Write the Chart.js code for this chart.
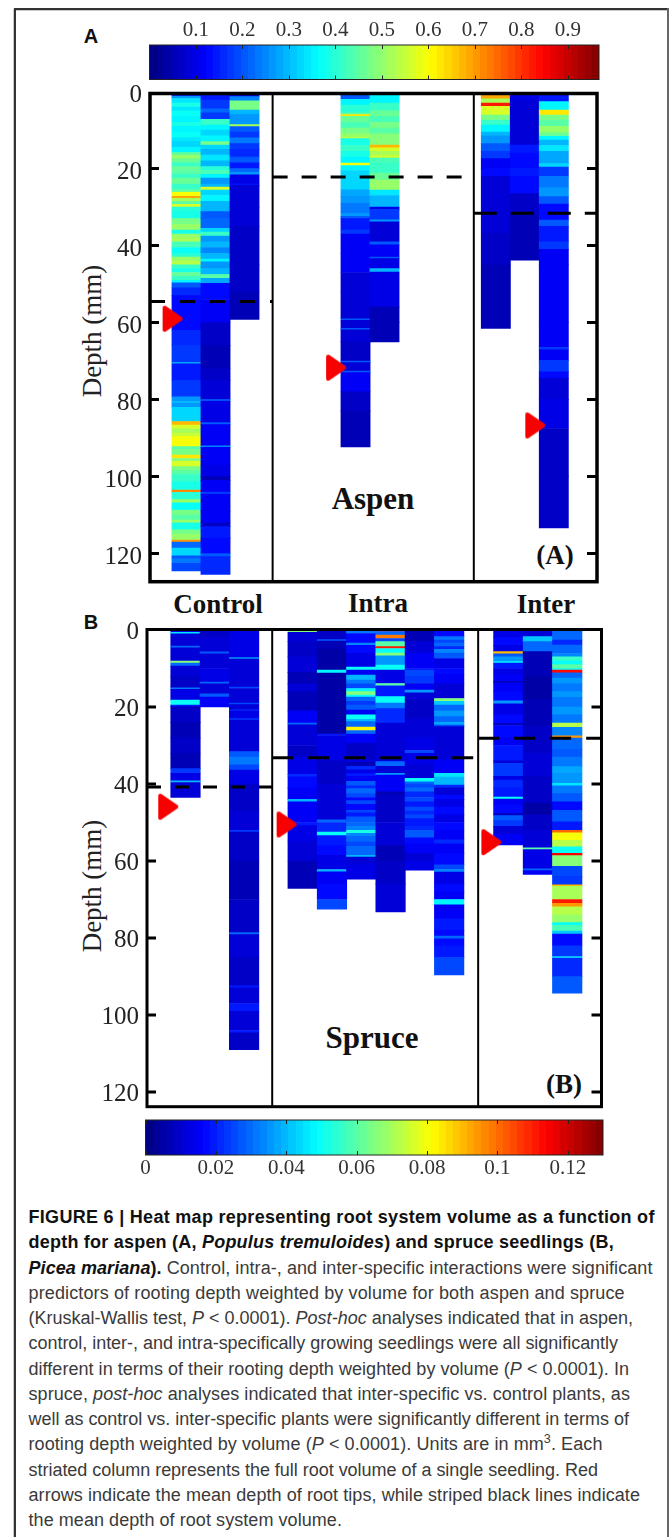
<!DOCTYPE html>
<html>
<head>
<meta charset="utf-8">
<script src="https://cdn.jsdelivr.net/npm/chart.js@4/dist/chart.umd.js"></script>
<style>
  html, body { margin: 0; padding: 0; background: #fff; }
  body { position: relative; width: 670px; height: 1537px; overflow: hidden; }
  canvas { position: absolute; left: 0; filter: blur(0.45px); }
  .rule { position: absolute; background: #333; }
  .soft { position: absolute; background: #c8c8c8; }
  .lab { position: absolute; white-space: nowrap; transform: translate(-50%, -50%); color: #111; line-height: 1; }
  .serif { font-family: "Liberation Serif", serif; font-weight: bold; }
  .sans { font-family: "Liberation Sans", sans-serif; font-weight: bold; }
  .axis { font-family: "Liberation Serif", serif; font-size: 27px; color: #222; transform: translate(-50%, -50%) rotate(-90deg); }
  #caption { position: absolute; left: 28.5px; top: 1205px; font-family: "Liberation Sans", sans-serif; font-size: 18px; line-height: 25.25px; color: #3a3a3a; }
  #caption div { white-space: nowrap; height: 25.25px; width: max-content; }
  #caption b { color: #111; }
  sup { font-size: 70%; line-height: 0; }
</style>
</head>
<body>
<div class="soft" style="left:15px;top:10px;width:652px;height:1px"></div>
<div class="soft" style="left:13px;top:9px;width:1px;height:1528px"></div>
<div class="rule" style="left:14px;top:8px;width:654px;height:2px"></div>
<div class="rule" style="left:14px;top:8px;width:1.5px;height:1529px"></div>
<div class="rule" style="left:667px;top:8px;width:1.5px;height:1529px;background:#666"></div>

<div class="lab sans" style="left:91px;top:36px;font-size:20px">A</div>
<div class="lab sans" style="left:91px;top:622px;font-size:20px">B</div>
<div class="lab serif" style="left:218px;top:604px;font-size:27px">Control</div>
<div class="lab serif" style="left:378px;top:603px;font-size:27px">Intra</div>
<div class="lab serif" style="left:546px;top:604px;font-size:27px">Inter</div>
<div class="lab serif" style="left:373px;top:498px;font-size:31px">Aspen</div>
<div class="lab serif" style="left:555px;top:555px;font-size:27px">(A)</div>
<div class="lab serif" style="left:372px;top:1037px;font-size:31px">Spruce</div>
<div class="lab serif" style="left:564px;top:1084px;font-size:27px">(B)</div>
<div class="lab axis" style="left:92px;top:331px">Depth (mm)</div>
<div class="lab axis" style="left:92px;top:886px">Depth (mm)</div>

<canvas id="barA" width="670" height="70" style="top:10px"></canvas>
<canvas id="chartA" width="670" height="560" style="top:60px"></canvas>
<canvas id="chartB" width="670" height="560" style="top:590px"></canvas>
<canvas id="barB" width="670" height="70" style="top:1115px"></canvas>

<div id="caption">
  <div><b>FIGURE 6 | Heat map representing root system volume as a function of</b></div>
  <div><b>depth for aspen (A, <i>Populus tremuloides</i>) and spruce seedlings (B,</b></div>
  <div><b><i>Picea mariana</i>).</b> Control, intra-, and inter-specific interactions were significant</div>
  <div>predictors of rooting depth weighted by volume for both aspen and spruce</div>
  <div>(Kruskal-Wallis test, <i>P</i> &lt; 0.0001). <i>Post-hoc</i> analyses indicated that in aspen,</div>
  <div>control, inter-, and intra-specifically growing seedlings were all significantly</div>
  <div>different in terms of their rooting depth weighted by volume (<i>P</i> &lt; 0.0001). In</div>
  <div>spruce, <i>post-hoc</i> analyses indicated that inter-specific vs. control plants, as</div>
  <div>well as control vs. inter-specific plants were significantly different in terms of</div>
  <div>rooting depth weighted by volume (<i>P</i> &lt; 0.0001). Units are in mm<sup>3</sup>. Each</div>
  <div>striated column represents the full root volume of a single seedling. Red</div>
  <div>arrows indicate the mean depth of root tips, while striped black lines indicate</div>
  <div>the mean depth of root system volume.</div>
</div>

<script>
// Shared tick lists =============================================
const depthTicks = [0, 20, 40, 60, 80, 100, 120];
const colorTicksA = [0.1, 0.2, 0.3, 0.4, 0.5, 0.6, 0.7, 0.8, 0.9];
const colorTicksB = [0, 0.02, 0.04, 0.06, 0.08, 0.1, 0.12];
const colorMaxA = 0.967;
const colorMaxB = 0.13;

// Aspen columns: [depth at bottom of band, volume] =============
const aspenControl1 = [[1.2,.13],[1.8,.26],[3,.34],[4,.38],[5,.34],[6.5,.37],[8,.35],[9,.38],[10.5,.35],[12,.37],[13,.34],[14.5,.32],[15.8,.35],[16.5,.44],[17.5,.5],[18.5,.46],[19.5,.42],[20.5,.46],[21.5,.44],[22.5,.42],[24,.46],[25.5,.42],[26.2,.46],[27.2,.6],[27.7,.68],[28.6,.52],[29.3,.44],[30,.56],[31,.4],[33,.38],[34.5,.47],[36,.5],[37,.39],[38,.5],[39,.52],[40.5,.43],[42,.37],[43,.4],[44,.5],[45,.54],[46,.42],[47,.38],[48,.46],[49,.41],[49.7,.36],[51,.2],[53,.16],[62,.13],[66,.16],[70.3,.17],[70.7,.28],[75,.15],[79.3,.18],[80.5,.27],[81,.3],[82,.26],[85.7,.33],[86.6,.67],[87.6,.56],[88.7,.52],[89.6,.55],[92.2,.59],[93,.44],[94.4,.47],[95.3,.63],[96,.47],[97.4,.56],[98.5,.47],[99.5,.44],[101.3,.41],[103.5,.38],[104.1,.72],[106,.4],[106.8,.5],[108.7,.37],[110,.47],[111.3,.44],[112,.5],[113.8,.38],[115,.48],[116.5,.5],[117,.7],[118.6,.22],[120.6,.33],[121.3,.2],[122.5,.24],[124.5,.19]];
const aspenControl2 = [[1,.13],[2.2,.15],[4.5,.17],[5.5,.22],[7.2,.18],[8.7,.42],[10,.35],[11.5,.32],[13,.35],[13.9,.47],[15,.33],[16.5,.3],[18,.34],[19.5,.3],[20.5,.4],[21.5,.43],[22.5,.36],[24,.27],[24.8,.3],[25.6,.56],[27,.33],[28.5,.36],[31.2,.3],[33,.2],[35.5,.22],[36.5,.32],[37.5,.42],[39,.27],[40.5,.3],[42,.25],[43.5,.3],[44.2,.36],[46,.27],[47.5,.3],[48.5,.44],[49.8,.28],[54,.13],[60,.12],[66,.07],[72,.05],[75,.07],[80,.09],[80.4,.22],[86,.1],[86.5,.2],[92,.11],[92.4,.25],[97,.11],[100,.1],[101,.06],[104,.12],[104.6,.17],[109,.11],[112,.12],[113,.07],[116,.14],[120,.13],[120.8,.2],[125.4,.16]];
const aspenControl3 = [[1.3,.1],[2.4,.25],[4.8,.47],[6,.3],[8.6,.27],[9.1,.52],[10.5,.2],[12,.17],[13.5,.23],[15,.18],[17,.16],[18.5,.21],[20,.15],[21,.22],[21.6,.26],[24,.1],[24.3,.15],[30,.09],[35,.08],[45,.075],[52,.07],[59.2,.06]];
const aspenIntra1 = [[1,.13],[2,.2],[3.5,.36],[5.5,.4],[6,.45],[6.4,.62],[8,.46],[9.5,.43],[11,.47],[11.8,.5],[12.2,.54],[14,.38],[15.5,.42],[17,.38],[18.6,.36],[19.2,.6],[20.5,.36],[22,.33],[25.5,.33],[27.2,.28],[29,.26],[31.6,.23],[32.4,.27],[33,.21],[36,.15],[37,.18],[42,.12],[47,.12],[52,.09],[59,.08],[59.4,.2],[61.5,.09],[61.9,.2],[65,.08],[70,.07],[70.4,.2],[72.6,.08],[73,.2],[78,.12],[83,.07],[92.3,.06]];
const aspenIntra2 = [[.9,.25],[3,.36],[5,.42],[6.5,.46],[8,.43],[9.5,.47],[11,.44],[13.9,.49],[14.6,.67],[15.5,.56],[16.5,.52],[17.3,.55],[18.5,.43],[21.2,.41],[23,.46],[25.6,.5],[27,.34],[30,.3],[30.6,.1],[33.3,.17],[33.8,.27],[39,.09],[39.8,.2],[43,.12],[43.4,.2],[46,.1],[46.9,.3],[56,.1],[60,.06],[65,.05]];
const aspenInter1 = [[.6,.3],[1.9,.68],[3,.52],[3.8,.82],[6.1,.56],[7.5,.47],[8.7,.42],[10.5,.36],[11.5,.3],[13.5,.26],[15.5,.2],[17.4,.18],[20,.12],[22,.13],[30,.09],[36.8,.08],[45,.07],[61.5,.06]];
const aspenInter2 = [[1.2,.13],[2.2,.1],[13.9,.09],[16,.14],[20,.13],[22,.15],[26.5,.13],[32,.07],[43.8,.055]];
const aspenInter3 = [[2.6,.14],[4.8,.36],[6.1,.63],[7.5,.48],[9,.45],[10.7,.5],[11.6,.46],[12.6,.36],[14,.3],[15.5,.34],[18.7,.28],[19.6,.33],[22,.18],[25,.24],[27.3,.26],[29.2,.2],[33.4,.13],[35,.2],[39,.15],[41,.17],[45,.11],[60,.12],[66.4,.11],[67.1,.18],[69.8,.12],[72.8,.18],[74.5,.13],[80,.09],[87.5,.1],[100,.07],[113.3,.07]];

const aspenColumns = [aspenControl1, aspenControl2, aspenControl3, aspenIntra1, aspenIntra2, aspenInter1, aspenInter2, aspenInter3];
const aspenSlots = [1, 2, 3, 6.83, 7.83, 11.67, 12.67, 13.67];
const aspenMeanDepth = [54.5, 22.2, 31.6];
const aspenTipDepth = [59, 71.7, 86.7];
const aspenTipSlot = [0.52, 6.16, 13.03];
const aspenDividers = [3.97, 10.91];

// Spruce columns ================================================
const spruceControl1 = [[.6,.014],[1,.045],[4.2,.012],[4.6,.03],[8.1,.012],[8.6,.066],[9.4,.03],[12,.012],[15,.01],[15.4,.032],[18.2,.014],[19.5,.05],[19.9,.02],[24,.01],[28,.008],[32,.01],[36,.007],[37.2,.024],[39.2,.014],[39.6,.04],[43.5,.012]];
const spruceControl2 = [[2,.009],[5.7,.012],[6.2,.028],[10,.012],[13.5,.014],[14,.03],[16.6,.012],[17.4,.028],[20,.016]];
const spruceControl3 = [[7.2,.014],[7.5,.045],[14.8,.012],[15.2,.025],[19,.012],[19.4,.025],[20.7,.012],[21,.024],[23,.013],[23.4,.024],[31.6,.011],[33,.028],[35,.032],[36.4,.026],[40,.014],[47,.01],[52,.012],[52.5,.024],[60,.01],[70,.008],[78.6,.009],[79.1,.03],[85,.012],[92.4,.01],[92.9,.02],[97,.012],[99,.02],[104,.011],[104.6,.02],[109,.009]];

const spruceIntra1 = [[.6,.065],[3,.012],[7,.009],[11,.011],[14,.008],[16,.011],[21,.008],[24.2,.016],[24.6,.03],[30,.012],[33,.01],[37.5,.013],[38.1,.022],[41,.018],[44,.015],[44.6,.04],[50,.016],[50.8,.02],[55,.013],[60,.011],[67.1,.008]];
const spruceIntra2 = [[2.5,.009],[2.9,.028],[5,.007],[10.4,.006],[11.2,.048],[18,.006],[27,.005],[27.4,.02],[34,.014],[40,.009],[46.8,.011],[49.3,.012],[50,.03],[52.5,.022],[53.4,.05],[56,.02],[58.5,.018],[62.2,.013],[62.8,.04],[66,.016],[70,.018],[72.5,.025]];
const spruceIntra3 = [[.9,.032],[3.4,.018],[4,.034],[6,.018],[9.6,.014],[10.4,.05],[11.7,.016],[13,.04],[14,.032],[15.2,.026],[16,.048],[16.9,.066],[17.4,.05],[18.5,.03],[19.5,.024],[20.8,.028],[22,.016],[23.2,.05],[23.8,.04],[25.2,.03],[26.1,.082],[27,.03],[29.4,.016],[33.7,.01],[34.3,.013],[35.4,.008],[36.3,.022],[37.3,.014],[38,.02],[39.3,.016],[40.5,.028],[41.2,.022],[42.5,.03],[43.5,.026],[44.3,.018],[45.3,.026],[46.8,.018],[47.5,.026],[48.5,.02],[50,.028],[51,.03],[52,.034],[52.8,.052],[53.6,.034],[55,.03],[56.2,.025],[57.3,.03],[58.5,.03],[59,.04],[61,.012],[64.7,.014]];
const spruceIntra4 = [[.4,.115],[1.3,.03],[2.2,.098],[3,.025],[4.3,.06],[4.8,.11],[6,.05],[6.7,.066],[9.1,.036],[10.4,.05],[13.9,.014],[14.5,.06],[17.3,.02],[19,.05],[20.4,.032],[24.2,.022],[34.2,.012],[35.4,.03],[37.2,.012],[37.7,.035],[42,.016],[43,.007],[50,.01],[56,.012],[60,.008],[66,.01],[73.2,.012]];
const spruceIntra5 = [[3,.008],[6,.012],[10,.016],[10.5,.02],[12,.026],[13.9,.024],[15.6,.016],[16.3,.036],[18,.012],[23,.01],[28,.012],[31.3,.013],[32,.025],[35,.014],[38.5,.012],[39.4,.05],[40,.03],[41,.026],[42,.03],[43.5,.022],[44.6,.026],[46,.02],[47,.026],[48,.022],[49,.026],[51,.02],[52,.022],[54,.028],[55.5,.018],[58,.016],[60,.012],[62.4,.014]];
const spruceIntra6 = [[1.7,.018],[2.6,.032],[3.4,.026],[4.3,.03],[5,.022],[6,.034],[7.4,.028],[10,.014],[11.5,.018],[14,.016],[17.8,.012],[18.5,.065],[19.5,.042],[21,.03],[22.5,.036],[24,.03],[24.7,.038],[25.1,.025],[33.7,.012],[37.2,.015],[38.2,.046],[40.3,.04],[41,.022],[42.9,.012],[44,.018],[46,.014],[48,.018],[50,.014],[52,.018],[54.5,.016],[55.5,.022],[58,.015],[61,.018],[62.2,.026],[62.9,.034],[66,.014],[68,.018],[70,.016],[71.4,.048],[75,.016],[78,.02],[79.5,.017],[80.2,.03],[82,.018],[85,.02],[89.6,.026]];

const spruceInter1 = [[2,.014],[4,.018],[5.6,.013],[6.2,.09],[7,.028],[8.2,.035],[8.6,.048],[10,.02],[11.5,.014],[13.4,.016],[13.7,.006],[16,.016],[18.4,.018],[19.2,.036],[22,.014],[24.3,.018],[24.8,.008],[28,.018],[30,.016],[34,.02],[34.6,.012],[38,.024],[39,.014],[41,.022],[43.4,.02],[43.9,.05],[45.5,.016],[47.6,.018],[48.2,.01],[49.5,.028],[51,.024],[53,.012],[55.8,.016]];
const spruceInter2 = [[1.7,.012],[3,.042],[5.6,.03],[12,.007],[18,.006],[25,.008],[32,.009],[38,.011],[45,.009],[48,.006],[52,.01],[56.6,.012],[57,.06],[62,.014],[62.5,.03],[63.5,.015]];
const spruceInter3 = [[2.6,.03],[3.9,.022],[6.1,.03],[7,.034],[8,.055],[9,.05],[10,.06],[10.4,.05],[11.1,.112],[12.5,.03],[14,.036],[16,.031],[17.5,.036],[20,.031],[22,.036],[24.2,.032],[25.3,.072],[27.5,.034],[28.1,.095],[31,.03],[33,.027],[35.5,.032],[37,.038],[39.8,.035],[40.5,.045],[42.5,.032],[44.6,.027],[46.8,.017],[49.8,.028],[52,.02],[52.7,.1],[54.6,.08],[56.3,.072],[58,.05],[58.6,.115],[61.4,.065],[64,.026],[66.2,.024],[66.6,.09],[70,.07],[71,.11],[71.9,.095],[74,.072],[76,.068],[76.7,.05],[78.2,.058],[79,.042],[82,.018],[84.8,.024],[85.3,.042],[90,.022],[94.3,.028]];

const spruceColumns = [spruceControl1, spruceControl2, spruceControl3, spruceIntra1, spruceIntra2, spruceIntra3, spruceIntra4, spruceIntra5, spruceIntra6, spruceInter1, spruceInter2, spruceInter3];
const spruceSlots = [1, 2, 3, 5, 6, 7, 8, 9, 10, 12.02, 13.03, 14.03];
const spruceMeanDepth = [40.8, 33.2, 28.1];
const spruceTipDepth = [45.9, 50.5, 55.1];
const spruceTipSlot = [0.41, 4.45, 11.44];
const spruceDividers = [3.96, 10.99];

// Caption line ends ==============================================
const captionRight = [654.7, 614, 652.5, 624.7, 633, 618, 629, 630, 629, 602.5, 598, 640, 342];

// Colormap ======================================================
function jetColor(t) {
  const level = Math.min(63, Math.floor(t * 64));
  const f = (level + 0.5) / 64;
  const c = (k) => Math.round(255 * Math.max(0, Math.min(1, 1.5 - Math.abs(4 * f - k))));
  return `rgb(${c(3)},${c(2)},${c(1)})`;
}

function jetGradient(context) {
  const { ctx, chartArea } = context.chart;
  if (!chartArea) return "#000";
  const g = ctx.createLinearGradient(chartArea.left, 0, chartArea.right, 0);
  for (let i = 0; i < 64; i++) {
    g.addColorStop(i / 64, jetColor(i / 64));
    g.addColorStop((i + 1) / 64, jetColor(i / 64));
  }
  return g;
}

// Rounded red arrow used as the point style
function makeArrow() {
  const c = document.createElement("canvas");
  c.width = 22;
  c.height = 28;
  const g = c.getContext("2d");
  g.fillStyle = g.strokeStyle = "#f60000";
  g.lineWidth = 4;
  g.lineJoin = "round";
  g.beginPath();
  g.moveTo(3, 3);
  g.lineTo(19, 14);
  g.lineTo(3, 25);
  g.closePath();
  g.fill();
  g.stroke();
  return c;
}
const arrow = makeArrow();

// Frame and inner ticks ==========================================
const frameTicks = {
  id: "frameTicks",
  afterDraw(chart, args, opts) {
    const { ctx, chartArea: a, scales: { y } } = chart;
    ctx.save();
    ctx.strokeStyle = "#000";
    ctx.lineWidth = 3;
    depthTicks.slice(1).forEach((t) => {
      const py = y.getPixelForValue(t);
      ctx.beginPath();
      ctx.moveTo(a.left, py);
      ctx.lineTo(a.left + 9, py);
      ctx.moveTo(a.right, py);
      ctx.lineTo(a.right - 10, py);
      ctx.stroke();
    });
    ctx.lineWidth = opts.frame;
    ctx.strokeRect(a.left, a.top, a.right - a.left, a.bottom - a.top);
    ctx.restore();
  },
};

const barTicks = {
  id: "barTicks",
  afterDraw(chart) {
    const { ctx, chartArea: a, scales: { x } } = chart;
    ctx.save();
    ctx.strokeStyle = "#222";
    ctx.lineWidth = 1;
    x.ticks.forEach((t) => {
      const px = Math.round(x.getPixelForValue(t.value)) + 0.5;
      ctx.beginPath();
      ctx.moveTo(px, a.top);
      ctx.lineTo(px, a.top + 4);
      ctx.moveTo(px, a.bottom);
      ctx.lineTo(px, a.bottom - 4);
      ctx.stroke();
    });
    ctx.strokeRect(a.left, a.top, a.right - a.left, a.bottom - a.top);
    ctx.restore();
  },
};

// Heat map panel =================================================
function makePanel(id, cfg) {
  const bands = [];
  const colors = [];
  cfg.columns.forEach((col, i) => {
    let top = 0;
    col.forEach(([end, value]) => {
      bands.push({ x: cfg.slots[i], y: [top, end] });
      colors.push(jetColor(value / cfg.colorMax));
      top = end;
    });
  });

  const edges = [cfg.xMin, ...cfg.dividers, cfg.xMax];
  const meanLines = cfg.means.map((m, i) => ({
    type: "line",
    data: [{ x: edges[i], y: m }, { x: edges[i + 1], y: m }],
    borderColor: "#000",
    borderWidth: 3,
    borderDash: cfg.dashes[i],
    pointRadius: 0,
    order: 1,
  }));
  const dividerLines = cfg.dividers.map((d) => ({
    type: "line",
    data: [{ x: d, y: cfg.yMin }, { x: d, y: cfg.yMax }],
    borderColor: "#000",
    borderWidth: 2,
    pointRadius: 0,
    order: 2,
  }));

  return new Chart(document.getElementById(id), {
    type: "bar",
    data: {
      datasets: [
        {
          data: bands,
          backgroundColor: colors,
          barThickness: cfg.thickness,
          grouped: false,
          order: 4,
        },
        ...dividerLines,
        ...meanLines,
        {
          type: "scatter",
          data: cfg.tips.map((d, i) => ({ x: cfg.tipSlots[i], y: d })),
          pointStyle: arrow,
          order: 0,
        },
      ],
    },
    options: {
      responsive: false,
      animation: false,
      layout: { padding: cfg.padding },
      plugins: { legend: { display: false }, tooltip: { enabled: false }, frameTicks: { frame: cfg.frame } },
      scales: {
        x: { type: "linear", display: false, min: cfg.xMin, max: cfg.xMax, offset: false },
        y: {
          reverse: true,
          min: cfg.yMin,
          max: cfg.yMax,
          afterFit(scale) { scale.width = cfg.axisWidth; },
          afterBuildTicks(scale) { scale.ticks = depthTicks.map((v) => ({ value: v })); },
          grid: { display: false, drawTicks: false },
          border: { display: false },
          ticks: {
            color: "#222",
            padding: cfg.tickPad,
            labelOffset: cfg.labelOffset,
            autoSkip: false,
            font: { family: "Liberation Serif", size: 25 },
          },
        },
      },
    },
    plugins: [frameTicks],
  });
}

makePanel("chartA", {
  columns: aspenColumns, slots: aspenSlots, colorMax: colorMaxA, means: aspenMeanDepth,
  dashes: [[15, 15], [15, 14], [23, 14]], dividers: aspenDividers, tips: aspenTipDepth, tipSlots: aspenTipSlot,
  xMin: -0.26, xMax: 15.16, yMin: 0.5, yMax: 127.3, thickness: 29.2, frame: 3.5,
  padding: { top: 33.5, right: 73, bottom: 38.3, left: 0 }, axisWidth: 150, tickPad: 8, labelOffset: 4,
});

makePanel("chartB", {
  columns: spruceColumns, slots: spruceSlots, colorMax: colorMaxB, means: spruceMeanDepth,
  dashes: [[14, 14], [21, 15], [21, 15]], dividers: spruceDividers, tips: spruceTipDepth, tipSlots: spruceTipSlot,
  xMin: -0.314, xMax: 15.2, yMin: -0.13, yMax: 123.8, thickness: 29.5, frame: 3,
  padding: { top: 39.5, right: 68.5, bottom: 43.3, left: 0 }, axisWidth: 147, tickPad: 8, labelOffset: 2,
});

// Colour bars ====================================================
function makeColorBar(id, cfg) {
  return new Chart(document.getElementById(id), {
    type: "bar",
    data: {
      labels: [""],
      datasets: [{ data: [[0, cfg.max]], backgroundColor: jetGradient, barPercentage: 1, categoryPercentage: 1 }],
    },
    options: {
      indexAxis: "y",
      responsive: false,
      animation: false,
      layout: { padding: cfg.padding },
      plugins: { legend: { display: false }, tooltip: { enabled: false } },
      scales: {
        y: { display: false },
        x: {
          position: cfg.side,
          min: 0,
          max: cfg.max,
          afterFit(scale) { scale.height = cfg.axisHeight; },
          afterBuildTicks(scale) { scale.ticks = cfg.ticks.map((v) => ({ value: v })); },
          grid: { display: false, drawTicks: false },
          border: { display: false },
          ticks: {
            color: "#333",
            padding: cfg.tickPad,
            autoSkip: false,
            maxRotation: 0,
            font: { family: "Liberation Serif", size: 21 },
            callback: (v) => String(+v.toFixed(2)),
          },
        },
      },
    },
    plugins: [barTicks],
  });
}

makeColorBar("barA", {
  max: colorMaxA, ticks: colorTicksA, side: "top", axisHeight: 35, tickPad: 2,
  padding: { top: 0, right: 71, bottom: 0.5, left: 149.5 },
});
makeColorBar("barB", {
  max: colorMaxB, ticks: colorTicksB, side: "bottom", axisHeight: 28, tickPad: 1,
  padding: { top: 5, right: 67, bottom: 2, left: 145.5 },
});

// Fit each caption line to where it ends in the reference =========
document.querySelectorAll("#caption div").forEach((line, i) => {
  const box = line.getBoundingClientRect();
  const chars = line.textContent.length;
  line.style.letterSpacing = (captionRight[i] - box.right) / chars + "px";
});
</script>
</body>
</html>
